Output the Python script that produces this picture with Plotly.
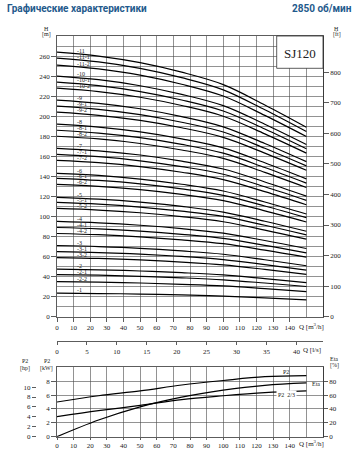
import plotly.graph_objects as go
import numpy as np

W, H = 359, 449

# ---------------- data ----------------
Q = [0, 25, 50, 75, 100, 125, 150]  # m3/h

curve_names = ["-11", "-11-1", "-11-2", "-10", "-10-1", "-10-2", "-9", "-9-1", "-9-2",
               "-8", "-8-1", "-8-2", "-7", "-7-1", "-7-2", "-6", "-6-1", "-6-2",
               "-5", "-5-1", "-5-2", "-4", "-4-1", "-4-2", "-3", "-3-1", "-3-2",
               "-2", "-2-1", "-2-2", "-1"]

curve_heads = [
    [264, 260.0, 253.4, 243.9, 231.5, 211.2, 189.0],
    [258, 254.1, 247.7, 238.4, 226.3, 206.4, 184.7],
    [251, 247.2, 241.0, 231.9, 220.1, 200.8, 179.7],
    [240, 236.4, 230.4, 221.8, 210.5, 192.0, 171.8],
    [234, 230.5, 224.6, 216.2, 205.2, 187.2, 167.5],
    [228, 224.6, 218.9, 210.7, 200.0, 182.4, 163.2],
    [216, 212.8, 207.4, 199.6, 189.4, 172.8, 154.7],
    [210, 206.9, 201.6, 194.0, 184.2, 168.0, 150.4],
    [204, 200.9, 195.8, 188.5, 178.9, 163.2, 146.1],
    [192, 189.1, 184.3, 177.4, 168.4, 153.6, 137.5],
    [186, 183.2, 178.6, 171.9, 163.1, 148.8, 133.2],
    [180, 177.3, 172.8, 166.3, 157.9, 144.0, 128.9],
    [168, 165.5, 161.3, 155.2, 147.3, 134.4, 120.3],
    [162, 159.6, 155.5, 149.7, 142.1, 129.6, 116.0],
    [156, 153.7, 149.8, 144.1, 136.8, 124.8, 111.7],
    [143, 140.9, 137.3, 132.1, 125.4, 114.4, 102.4],
    [138, 135.9, 132.5, 127.5, 121.0, 110.4, 98.8],
    [132, 130.0, 126.7, 122.0, 115.8, 105.6, 94.5],
    [119, 117.2, 114.2, 110.0, 104.4, 95.2, 85.2],
    [114, 112.3, 109.4, 105.3, 100.0, 91.2, 81.6],
    [108, 106.4, 103.7, 99.8, 94.7, 86.4, 77.3],
    [95, 93.6, 91.2, 87.8, 83.3, 76.0, 68.0],
    [89, 87.7, 85.4, 82.2, 78.1, 71.2, 63.7],
    [83, 81.8, 79.7, 76.7, 72.8, 66.4, 59.4],
    [71, 69.9, 68.2, 65.6, 62.3, 56.8, 50.8],
    [65, 64.0, 62.4, 60.1, 57.0, 52.0, 46.5],
    [59, 58.1, 56.6, 54.5, 51.7, 47.2, 42.2],
    [47.5, 46.8, 45.6, 43.9, 41.7, 38.0, 34.0],
    [42, 41.4, 40.3, 38.8, 36.8, 33.6, 30.1],
    [35, 34.5, 33.6, 32.3, 30.7, 28.0, 25.1],
    [23.5, 23.1, 22.6, 21.7, 20.6, 18.8, 16.8],
]

P2_kw = [5.0, 5.9, 6.6, 7.45, 8.1, 8.65, 8.8]
P2_23_kw = [2.9, 3.75, 4.5, 5.35, 5.9, 6.35, 6.6]
eta_pct = [0, 24, 43, 57, 67, 74, 77.5]

q_ticks = list(range(0, 150, 10))
h_ticks = list(range(0, 270, 20))
ft_ticks = list(range(0, 900, 100))
ls_ticks = list(range(0, 45, 5))
kw_ticks = [0, 2, 4, 6, 8]
hp_ticks = [0, 2, 4, 6, 8, 10]
eta_ticks = [0, 20, 40, 60, 80]

# ---------------- layout helpers ----------------
def px(x):
    return x / W

def py(y):
    return 1 - y / H

X_DOM = [px(57), px(323)]
Y1_DOM = [py(316.7), py(36)]
Y4_DOM = [py(436.7), py(367.3)]

SERIF = "Liberation Serif"
tickfont = dict(family=SERIF, size=7, color="#222")
LINEC = "#333"
GRIDC = "#4a4a4a"

base = dict(tickfont=tickfont, showline=True, linecolor=LINEC, linewidth=0.8,
            gridcolor=GRIDC, gridwidth=0.6, zeroline=False, ticks="outside",
            ticklen=4, tickwidth=0.8, tickcolor=LINEC, automargin=False,
            fixedrange=True)

fig = go.Figure()

# H-Q curves
for name, hv in zip(curve_names, curve_heads):
    fig.add_trace(go.Scatter(x=Q, y=hv, mode="lines", line=dict(color="black", width=1.2, shape="spline"),
                             xaxis="x", yaxis="y", showlegend=False, hoverinfo="skip"))

# dummy traces for extra axes
fig.add_trace(go.Scatter(x=[None], y=[None], xaxis="x", yaxis="y2", showlegend=False, hoverinfo="skip"))
fig.add_trace(go.Scatter(x=[None], y=[None], xaxis="x3", yaxis="y", showlegend=False, hoverinfo="skip"))
fig.add_trace(go.Scatter(x=[None], y=[None], xaxis="x4", yaxis="y5", showlegend=False, hoverinfo="skip"))

# power / efficiency
fig.add_trace(go.Scatter(x=Q, y=P2_kw, mode="lines", line=dict(color="black", width=1.2, shape="spline"),
                         xaxis="x4", yaxis="y4", showlegend=False, hoverinfo="skip"))
fig.add_trace(go.Scatter(x=Q, y=P2_23_kw, mode="lines", line=dict(color="black", width=1.2, shape="spline"),
                         xaxis="x4", yaxis="y4", showlegend=False, hoverinfo="skip"))
fig.add_trace(go.Scatter(x=Q, y=eta_pct, mode="lines", line=dict(color="black", width=1.2, shape="spline"),
                         xaxis="x4", yaxis="y6", showlegend=False, hoverinfo="skip"))

layout = dict(
    width=W, height=H, autosize=False,
    margin=dict(l=0, r=0, t=0, b=0, pad=0),
    paper_bgcolor="white", plot_bgcolor="white",
    showlegend=False,
)

layout["xaxis"] = dict(base, domain=X_DOM, anchor="y", range=[0, 160], tickmode="array",
                       tickvals=q_ticks, ticktext=[str(v) for v in q_ticks], showgrid=True, mirror=True,
                       minor=dict(tickmode="array", tickvals=[150], showgrid=True, gridcolor=GRIDC,
                                  gridwidth=0.6, ticks=""))
layout["yaxis"] = dict(base, domain=Y1_DOM, anchor="x", range=[0, 280], tickmode="array",
                       tickvals=h_ticks, ticktext=[str(v) for v in h_ticks], showgrid=True, mirror=True,
                       ticklen=5,
                       minor=dict(tickmode="array", tickvals=list(range(10, 280, 20)), showgrid=True,
                                  gridcolor=GRIDC, gridwidth=0.6, ticks=""))
layout["yaxis2"] = dict(base, overlaying="y", side="right", anchor="x", range=[0, 280 / 0.3048],
                        tickmode="array", tickvals=ft_ticks, ticktext=[str(v) for v in ft_ticks],
                        showgrid=False, ticklen=5)
layout["xaxis3"] = dict(base, overlaying="x", anchor="free", position=py(341.3), side="bottom",
                        range=[0, 160 / 3.6], tickmode="array", tickvals=ls_ticks,
                        ticktext=[str(v) for v in ls_ticks], showgrid=False, ticklen=3)
layout["xaxis4"] = dict(base, domain=X_DOM, anchor="y4", range=[0, 160], tickmode="array",
                        tickvals=q_ticks, ticktext=[str(v) for v in q_ticks], showgrid=True, mirror=True,
                        ticklen=2,
                        minor=dict(tickmode="array", tickvals=[150], showgrid=True, gridcolor=GRIDC,
                                   gridwidth=0.6, ticks=""))
layout["yaxis4"] = dict(base, domain=Y4_DOM, anchor="x4", range=[0, 10], tickmode="array",
                        tickvals=kw_ticks, ticktext=[str(v) for v in kw_ticks], showgrid=True,
                        mirror=True, ticklen=5)
layout["yaxis5"] = dict(base, overlaying="y4", anchor="free", position=px(36), side="left",
                        range=[0, 14], tickmode="array", tickvals=hp_ticks,
                        ticktext=[str(v) for v in hp_ticks], showgrid=False, showline=False, ticklen=4)
layout["yaxis6"] = dict(base, overlaying="y4", anchor="x4", side="right", range=[0, 100],
                        tickmode="array", tickvals=eta_ticks, ticktext=[str(v) for v in eta_ticks],
                        showgrid=False, ticklen=4)

fig.update_layout(**layout)

ann = []

def txt(x, y, s, size=7, xanchor="center", family=SERIF, **kw):
    ann.append(dict(x=px(x), y=py(y), xref="paper", yref="paper", text=s, showarrow=False,
                    xanchor=xanchor, yanchor="middle", font=dict(family=family, size=size, color="#222"), **kw))

# title
ann.append(dict(x=px(5), y=py(8.5), xref="paper", yref="paper", text="<b>Графические характеристики</b>",
                showarrow=False, xanchor="left", yanchor="middle",
                font=dict(family="Roboto", size=10, color="#1f5a8c")))
ann.append(dict(x=px(354), y=py(8.5), xref="paper", yref="paper", text="<b>2850 об/мин</b>",
                showarrow=False, xanchor="right", yanchor="middle",
                font=dict(family="Roboto", size=10, color="#1f5a8c")))

# axis titles
txt(46.7, 29.3, "H", size=6)
txt(46.7, 34.5, "[m]", size=6)
txt(336.5, 29.3, "H", size=6)
txt(336.5, 34.5, "[ft]", size=6)
txt(297, 326.5, "Q [m<sup>3</sup>/h]", xanchor="left")
txt(300.5, 349.5, "Q [l/s]", xanchor="left")
txt(297, 443.5, "Q [m<sup>3</sup>/h]", xanchor="left")
txt(25, 361.2, "P2", size=6)
txt(25, 368.0, "[hp]", size=6)
txt(46.7, 361.2, "P2", size=6)
txt(46.7, 368.0, "[kW]", size=6)
txt(334.3, 358.8, "Eta", size=6)
txt(334.3, 365.8, "[%]", size=6)

# curve labels (placed near Q=10.8, just above each curve)
for name, hv in zip(curve_names, curve_heads):
    yv = float(np.interp(10.8, Q, hv)) + 3.2
    ann.append(dict(x=10.8, y=yv, xref="x", yref="y", text=name, showarrow=False, xanchor="left",
                    yanchor="middle", font=dict(family=SERIF, size=6, color="#222")))

# bottom curve labels
ann.append(dict(x=138, y=P2_kw[-1] + 0.55, xref="x4", yref="y4", text="P2", showarrow=False,
                xanchor="center", yanchor="middle", font=dict(family=SERIF, size=6, color="#222")))
ann.append(dict(x=152, y=eta_pct[-1] / 10 - 0.2, xref="x4", yref="y4", text="Eta", showarrow=False,
                xanchor="left", yanchor="middle", font=dict(family=SERIF, size=6, color="#222")))
ann.append(dict(x=138, y=P2_23_kw[-1] - 0.6, xref="x4", yref="y4", text="P2  2/3", showarrow=False,
                xanchor="center", yanchor="middle", font=dict(family=SERIF, size=6, color="#222"),
                bgcolor="white"))

# model box
txt(300, 53, "SJ120", size=13)

fig.update_layout(annotations=ann)
fig.add_shape(type="rect", xref="paper", yref="paper", x0=px(276.7), x1=px(323), y0=py(68.3), y1=py(36),
              line=dict(color=LINEC, width=0.8), fillcolor="white", layer="above")

fig.write_html("out.html", config={"displayModeBar": False, "staticPlot": True},
               post_script="document.body.style.margin='0';document.body.style.overflow='hidden';")
